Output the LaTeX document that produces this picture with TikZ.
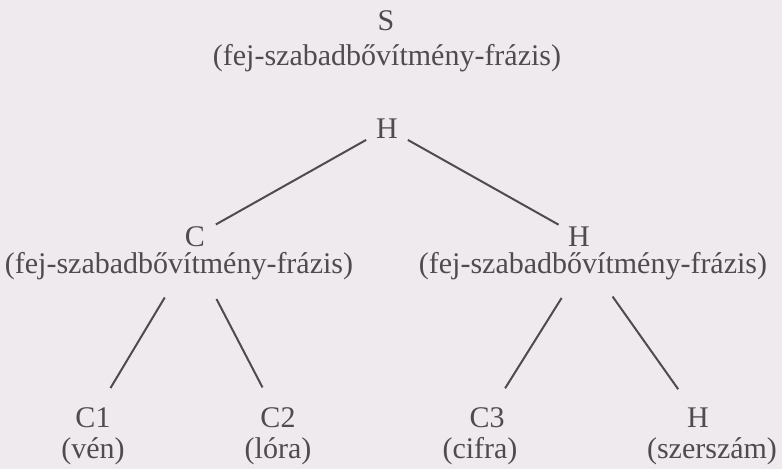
\documentclass[tikz,border=0pt]{standalone}
\usepackage{fontspec}
\setmainfont{Liberation Serif}
\usetikzlibrary{calc}
\definecolor{paper}{RGB}{239,234,238}
\definecolor{ink}{RGB}{78,76,78}
\begin{document}
\begin{tikzpicture}[x=1pt,y=-1pt,
  every node/.style={font=\fontsize{30}{36}\selectfont, text=ink},
  lbl/.style={anchor=base, inner sep=0pt},
  letter/.style={anchor=base, inner xsep=13pt, inner ysep=0pt},
  edge/.style={draw=ink, line width=2pt}]
\fill[paper] (0,0) rectangle (782,469);
\useasboundingbox (0,0) rectangle (782,469);

% root
\node[lbl] (S) at (386,30) {S};
\node[lbl] (Sf) at (387,65) {(fej-szabadbővítmény-frázis)};
\node[letter] (H0) at (387,138) {H};

% level 2
\node[letter] (C) at (195,246) {C};
\node[lbl] (Cf) at (179,273) {(fej-szabadbővítmény-frázis)};
\node[letter] (H1) at (579,246) {H};
\node[lbl] (H1f) at (593,273) {(fej-szabadbővítmény-frázis)};
\coordinate (hubL) at (192,252);
\coordinate (hubR) at (586,259);

% leaves
\node[letter] (C1) at (93,427) {C1};
\node[lbl] (C1f) at (93,458) {(vén)};
\node[letter] (C2) at (278,427) {C2};
\node[lbl] (C2f) at (278,458) {(lóra)};
\node[letter] (C3) at (487,427) {C3};
\node[lbl] (C3f) at (480,458) {(cifra)};
\node[letter] (H2) at (698,427) {H};
\node[lbl] (H2f) at (712,458) {(szerszám)};

% connectors
\draw[edge, shorten <=3.5pt, shorten >=3pt] (H0) -- (C);
\draw[edge, shorten <=3.5pt, shorten >=3pt] (H0) -- (H1);
\draw[edge, shorten <=53pt, shorten >=22pt] (hubL) -- (C1);
\draw[edge, shorten <=53pt, shorten >=22pt] (hubL) -- (C2);
\draw[edge, shorten <=46pt, shorten >=22pt] (hubR) -- (C3);
\draw[edge, shorten <=46pt, shorten >=22pt] (hubR) -- (H2);
\end{tikzpicture}
\end{document}
